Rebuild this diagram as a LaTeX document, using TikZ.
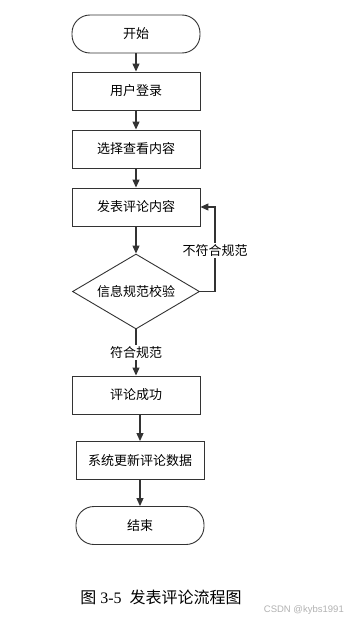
\documentclass[tikz,border=0pt]{standalone}
\usepackage{fontspec}
\setmainfont{Liberation Serif}
\newfontfamily\cjk{Noto Sans CJK SC}
\newfontfamily\wmfont{Liberation Sans}
\usetikzlibrary{shapes.geometric,arrows.meta}
\definecolor{edge}{HTML}{333333}
\tikzset{
  flowbox/.style={draw=edge,line width=0.9pt,minimum width=128pt,minimum height=38pt,inner sep=0pt,font=\cjk\fontsize{13}{15}\selectfont},
  termbox/.style={flowbox,rounded corners=18pt},
  decbox/.style={draw=edge,line width=0.9pt,diamond,aspect=1.7,minimum width=127pt,minimum height=75pt,inner sep=0pt,font=\cjk\fontsize{13}{15}\selectfont},
  flowarrow/.style={draw=edge,line width=1.1pt,-{Triangle[length=8pt,width=7pt]}},
  edgelabel/.style={fill=white,inner sep=1.5pt,font=\cjk\fontsize{13}{15}\selectfont}
}
\begin{document}
\begin{tikzpicture}[x=1pt,y=-1pt]
\useasboundingbox[fill=white] (0,0) rectangle (345,621);
\node[termbox] (start) at (136,34) {开始};
\node[flowbox] (login) at (136,91) {用户登录};
\node[flowbox] (select) at (136,149) {选择查看内容};
\node[flowbox] (post) at (136,207) {发表评论内容};
\node[decbox] (check) at (136,291.5) {信息规范校验};
\node[flowbox] (ok) at (136,395) {评论成功};
\node[flowbox] (update) at (140,460.5) {系统更新评论数据};
\node[termbox] (end) at (140,525.5) {结束};
\coordinate (fb) at (215,291.5);

\draw[flowarrow] (start) -- (login);
\draw[flowarrow] (login) -- (select);
\draw[flowarrow] (select) -- (post);
\draw[flowarrow] (post) -- (check);
\draw[flowarrow] (check) -- node[edgelabel,pos=0.5] (lblok) {符合规范} (ok);
\draw[flowarrow] (check.east) -- (fb) |- node[edgelabel,pos=0.24] (lblno) {不符合规范} (post.east);
\draw[flowarrow] (ok.south -| update.north) -- (update.north);
\draw[flowarrow] (update) -- (end);

\node[font=\fontsize{16}{18}\selectfont] (caption) at (161,597) {{\cjk 图} 3-5\hspace{8pt}{\cjk 发表评论流程图}};
\node[font=\wmfont\fontsize{9.5}{11}\selectfont,text=black!30,anchor=east,inner sep=0pt] (wm) at (344,610) {CSDN @kybs1991};
\end{tikzpicture}
\end{document}
